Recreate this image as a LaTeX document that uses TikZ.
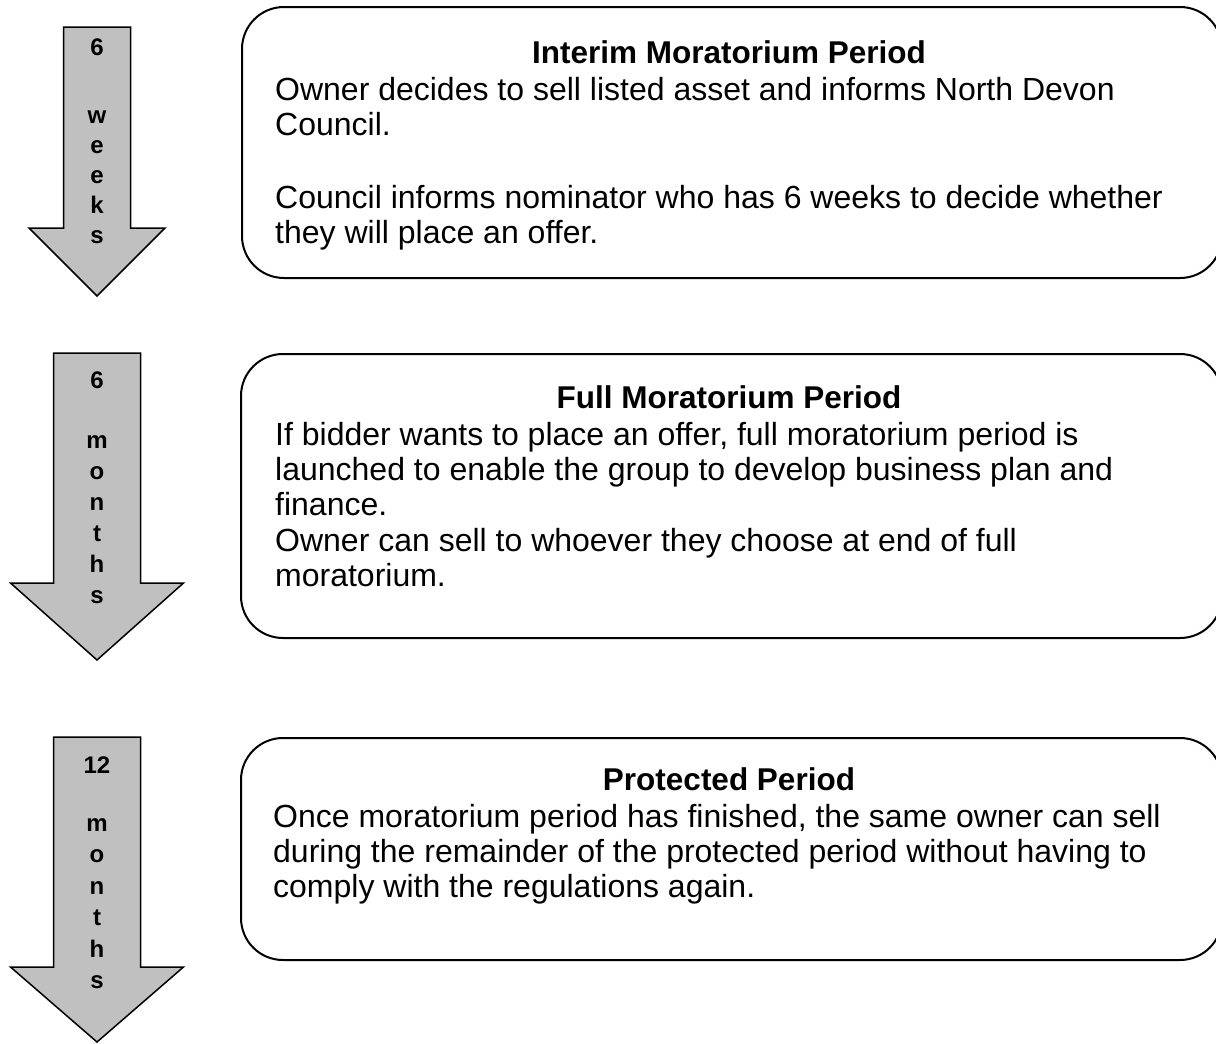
\documentclass[tikz,border=0pt]{standalone}
\usepackage{fontspec}
\setmainfont{Liberation Sans}
\usepackage{tikz}
\definecolor{arrowgray}{HTML}{C0C0C0}

\begin{document}
\begin{tikzpicture}[x=1pt, y=-1pt,
		period/.style={draw, line width=2pt, rounded corners=42pt},
		timearrow/.style={draw, line width=1.5pt, fill=arrowgray, line join=miter},
		lbl/.style={inner sep=0, anchor=base, font=\fontsize{24}{28}\selectfont\bfseries},
		head/.style={inner sep=0, anchor=base, font=\fontsize{31.5}{36}\selectfont\bfseries},
		body/.style={inner sep=0, anchor=base west, font=\fontsize{32}{36}\selectfont}]
			\useasboundingbox (0,0) rectangle (1216,1044);
			\foreach \t/\b/\s/\w/\e in {27/228/33.5/68/296, 353/583/43.5/86.5/660, 737/967/43.5/86.5/1042}{
				\draw[timearrow] (97-\s,\t) -- (97+\s,\t) -- (97+\s,\b) -- (97+\w,\b) -- (97,\e) -- (97-\w,\b) -- (97-\s,\b) -- cycle;
			}
			\node[lbl] (wk-n) at (97,55) {6};
			\foreach [count=\i] \c in {w,e,e,k,s}{
				\node[lbl] (wk-\i) at (97,{123+30*(\i-1)}) {\c};
			}
			\node[lbl] (mo-n) at (97,388) {6};
			\foreach [count=\i] \c in {m,o,n,t,h,s}{
				\node[lbl] (mo-\i) at (97,{448+31*(\i-1)}) {\c};
			}
			\node[lbl] (yr-n) at (97,773) {12};
			\foreach [count=\i] \c in {m,o,n,t,h,s}{
				\node[lbl] (yr-\i) at (97,{831+31.5*(\i-1)}) {\c};
			}
			\draw[period] (242,7) rectangle (1222,278);
			\draw[period] (241,354) rectangle (1222,638);
			\draw[period] (241,738) rectangle (1222,960);
			\node[head] (interim) at (729,63) {Interim Moratorium Period};
			\foreach \y/\l [count=\i] in {100/Owner decides to sell listed asset and informs North Devon, 135/Council., 208/Council informs nominator who has 6 weeks to decide whether, 243/they will place an offer.}{
				\node[body] (interim-\i) at (275,\y) {\l};
			}
			\node[head] (full) at (729,408) {Full Moratorium Period};
			\foreach \y/\l [count=\i] in {445/{If bidder wants to place an offer, full moratorium period is}, 480/launched to enable the group to develop business plan and, 515.5/finance., 551/Owner can sell to whoever they choose at end of full, 586/moratorium.}{
				\node[body] (full-\i) at (275,\y) {\l};
			}
			\node[head] (protected) at (729,790) {Protected Period};
			\foreach \y/\l [count=\i] in {827/{Once moratorium period has finished, the same owner can sell}, 862/during the remainder of the protected period without having to, 897/comply with the regulations again.}{
				\node[body] (protected-\i) at (273,\y) {\l};
			}
		\end{tikzpicture}
\end{document}
